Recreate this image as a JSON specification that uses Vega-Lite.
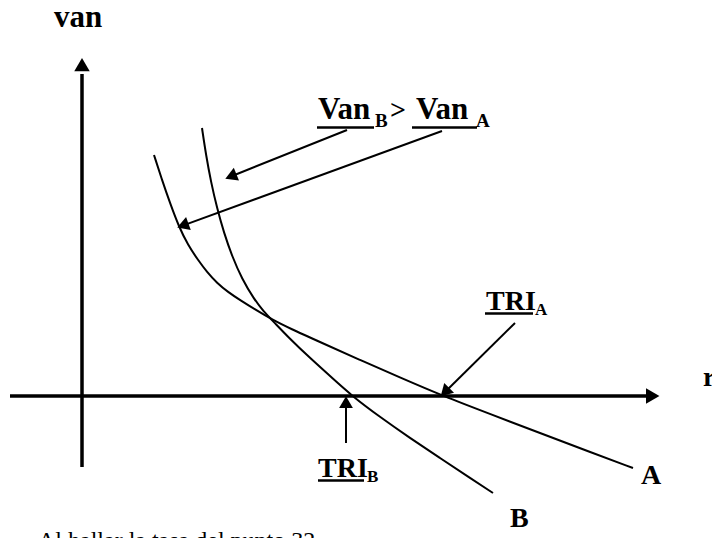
{
  "$schema": "https://vega.github.io/schema/vega-lite/v6.json",
  "width": 712,
  "height": 538,
  "autosize": {"type": "none"},
  "padding": 0,
  "background": "white",
  "config": {"view": {"stroke": null}},
  "datasets": {
    "axes": [
      {"name": "van axis", "r": 0, "van": -7.1, "r2": 0, "van2": 32.2},
      {"name": "r axis", "r": -7.2, "van": 0, "r2": 56.5, "van2": 0}
    ],
    "axisHeads": [
      {"name": "van axis", "r": 0, "van": 32.91, "dir": 0},
      {"name": "r axis", "r": 56.85, "van": 0, "dir": 90}
    ],
    "pointers": [
      {"name": "VanB", "r": 26.5, "van": 26.6, "r2": 15.07, "van2": 22.03},
      {"name": "VanA", "r": 36.0, "van": 26.5, "r2": 10.27, "van2": 17.11},
      {"name": "TRIA", "r": 43.3, "van": 7.3, "r2": 36.43, "van2": 0.53},
      {"name": "TRIB", "r": 26.4, "van": -4.7, "r2": 26.4, "van2": -0.8}
    ],
    "pointerHeads": [
      {"name": "VanB", "r": 15.07, "van": 22.03, "dir": 248},
      {"name": "VanA", "r": 10.27, "van": 17.11, "dir": 250},
      {"name": "TRIA", "r": 36.43, "van": 0.53, "dir": 225},
      {"name": "TRIB", "r": 26.4, "van": -0.81, "dir": 0}
    ],
    "curves": [
      {"curve": "A", "r": 7.2, "van": 24.1},
      {"curve": "A", "r": 8.0, "van": 21.6},
      {"curve": "A", "r": 8.8, "van": 19.3},
      {"curve": "A", "r": 9.7, "van": 16.9},
      {"curve": "A", "r": 10.6, "van": 15.1},
      {"curve": "A", "r": 11.6, "van": 13.6},
      {"curve": "A", "r": 12.5, "van": 12.4},
      {"curve": "A", "r": 13.5, "van": 11.3},
      {"curve": "A", "r": 14.6, "van": 10.4},
      {"curve": "A", "r": 15.8, "van": 9.6},
      {"curve": "A", "r": 17.4, "van": 8.6},
      {"curve": "A", "r": 19.0, "van": 7.65},
      {"curve": "A", "r": 20.8, "van": 6.75},
      {"curve": "A", "r": 23.8, "van": 5.4},
      {"curve": "A", "r": 27.8, "van": 3.6},
      {"curve": "A", "r": 31.8, "van": 1.85},
      {"curve": "A", "r": 36.1, "van": 0},
      {"curve": "A", "r": 40.8, "van": -1.8},
      {"curve": "A", "r": 45.8, "van": -3.7},
      {"curve": "A", "r": 50.8, "van": -5.6},
      {"curve": "A", "r": 55.1, "van": -7.2},
      {"curve": "B", "r": 12.0, "van": 26.8},
      {"curve": "B", "r": 12.4, "van": 24.1},
      {"curve": "B", "r": 12.9, "van": 21.4},
      {"curve": "B", "r": 13.5, "van": 18.8},
      {"curve": "B", "r": 14.2, "van": 16.3},
      {"curve": "B", "r": 15.0, "van": 14.0},
      {"curve": "B", "r": 16.0, "van": 11.7},
      {"curve": "B", "r": 17.2, "van": 9.7},
      {"curve": "B", "r": 18.2, "van": 8.4},
      {"curve": "B", "r": 19.0, "van": 7.6},
      {"curve": "B", "r": 20.8, "van": 5.7},
      {"curve": "B", "r": 22.8, "van": 3.8},
      {"curve": "B", "r": 24.8, "van": 2.0},
      {"curve": "B", "r": 27.0, "van": 0},
      {"curve": "B", "r": 29.8, "van": -2.1},
      {"curve": "B", "r": 32.8, "van": -4.2},
      {"curve": "B", "r": 35.8, "van": -6.2},
      {"curve": "B", "r": 38.8, "van": -8.2},
      {"curve": "B", "r": 41.1, "van": -9.7}
    ],
    "underlines": [
      {"name": "VanB", "r": 23.5, "r2": 29.2, "van": 26.85},
      {"name": "VanA", "r": 33.0, "r2": 39.5, "van": 26.85},
      {"name": "TRIA", "r": 40.3, "r2": 45.1, "van": 8.25},
      {"name": "TRIB", "r": 23.6, "r2": 28.2, "van": -8.45}
    ],
    "largeText": [
      {"label": "van", "r": -2.8, "van": 36.9},
      {"label": "Van", "r": 23.6, "van": 27.7},
      {"label": "Van", "r": 33.4, "van": 27.7}
    ],
    "bigText": [
      {"label": ">", "r": 30.8, "van": 27.7},
      {"label": "TRI", "r": 40.4, "van": 8.6},
      {"label": "TRI", "r": 23.6, "van": -8.1},
      {"label": "r", "r": 62.1, "van": 1.0},
      {"label": "A", "r": 55.9, "van": -8.8},
      {"label": "B", "r": 42.8, "van": -13.1}
    ],
    "subVan": [
      {"label": "B", "r": 29.3, "van": 26.9},
      {"label": "A", "r": 39.4, "van": 26.9}
    ],
    "subTRI": [
      {"label": "A", "r": 45.3, "van": 8.1},
      {"label": "B", "r": 28.5, "van": -8.6}
    ],
    "footText": [
      {"label": "Al hallar la tasa del punto 32", "r": -4.4, "van": -15.2}
    ]
  },
  "encoding": {
    "x": {"field": "r", "type": "quantitative", "scale": {"domain": [-8.2, 63.0], "nice": false, "zero": false}, "axis": null},
    "y": {"field": "van", "type": "quantitative", "scale": {"domain": [-14.2, 39.6], "nice": false, "zero": false}, "axis": null}
  },
  "layer": [
    {
      "data": {"name": "axes"},
      "mark": {"type": "rule", "color": "black", "strokeWidth": 3.5},
      "encoding": {"x2": {"field": "r2"}, "y2": {"field": "van2"}}
    },
    {
      "data": {"name": "axisHeads"},
      "mark": {"type": "point", "shape": "triangle", "filled": true, "color": "black", "opacity": 1, "size": 240, "strokeWidth": 0},
      "encoding": {"angle": {"field": "dir", "type": "quantitative", "scale": null}}
    },
    {
      "data": {"name": "pointers"},
      "mark": {"type": "rule", "color": "black", "strokeWidth": 2},
      "encoding": {"x2": {"field": "r2"}, "y2": {"field": "van2"}}
    },
    {
      "data": {"name": "pointerHeads"},
      "mark": {"type": "point", "shape": "triangle", "filled": true, "color": "black", "opacity": 1, "size": 190, "strokeWidth": 0},
      "encoding": {"angle": {"field": "dir", "type": "quantitative", "scale": null}}
    },
    {
      "data": {"name": "curves"},
      "mark": {"type": "line", "color": "black", "strokeWidth": 2, "interpolate": "basis"},
      "encoding": {"detail": {"field": "curve"}}
    },
    {
      "data": {"name": "underlines"},
      "mark": {"type": "rule", "color": "black", "strokeWidth": 2.5},
      "encoding": {"x2": {"field": "r2"}}
    },
    {
      "data": {"name": "largeText"},
      "mark": {"type": "text", "font": "Liberation Serif", "fontWeight": "bold", "fontSize": 31, "align": "left", "baseline": "alphabetic", "color": "black"},
      "encoding": {"text": {"field": "label"}}
    },
    {
      "data": {"name": "bigText"},
      "mark": {"type": "text", "font": "Liberation Serif", "fontWeight": "bold", "fontSize": 28, "align": "left", "baseline": "alphabetic", "color": "black"},
      "encoding": {"text": {"field": "label"}}
    },
    {
      "data": {"name": "subVan"},
      "mark": {"type": "text", "font": "Liberation Serif", "fontWeight": "bold", "fontSize": 19, "align": "left", "baseline": "alphabetic", "color": "black"},
      "encoding": {"text": {"field": "label"}}
    },
    {
      "data": {"name": "subTRI"},
      "mark": {"type": "text", "font": "Liberation Serif", "fontWeight": "bold", "fontSize": 17, "align": "left", "baseline": "alphabetic", "color": "black"},
      "encoding": {"text": {"field": "label"}}
    },
    {
      "data": {"name": "footText"},
      "mark": {"type": "text", "font": "Liberation Serif", "fontSize": 24, "align": "left", "baseline": "alphabetic", "color": "black"},
      "encoding": {"text": {"field": "label"}}
    }
  ]
}
